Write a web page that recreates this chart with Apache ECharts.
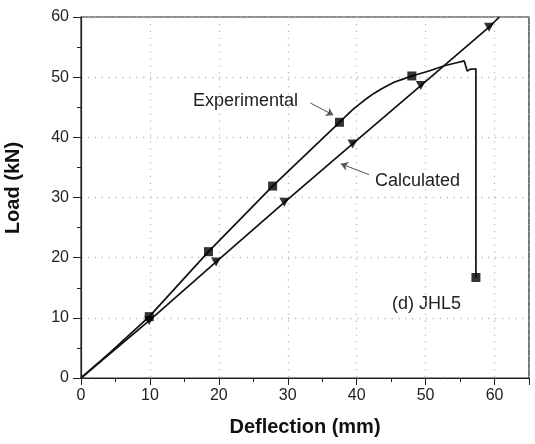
<!DOCTYPE html>
<html>
<head>
<meta charset="utf-8">
<script src="https://cdn.jsdelivr.net/npm/echarts@6/dist/echarts.min.js"></script>
<style>
  html, body { margin: 0; padding: 0; background: #fff; }
  #chart { width: 535px; height: 444px; }
</style>
</head>
<body>
<div id="chart"></div>
<script>
// experimental curve (deflection mm, load kN)
var expX = [0, 4.2, 9.9, 18.5, 27.8, 37.5, 38.5, 39.5, 40.5, 41.5, 42.5, 43.5, 44.5, 45.5, 46.5, 48.0, 49.5, 50.7, 52.7, 54.5, 55.6, 56.05, 56.4, 57.3, 57.3];
var expY = [0, 4.2, 10.2, 21.0, 31.9, 42.5, 43.6, 44.7, 45.6, 46.5, 47.3, 48.0, 48.6, 49.2, 49.6, 50.2, 50.7, 51.1, 51.9, 52.4, 52.7, 51.0, 51.3, 51.4, 16.7];
// square markers on experimental curve
var expMarkX = [9.9, 18.5, 27.8, 37.5, 48.0, 57.3];
var expMarkY = [10.2, 21.0, 31.9, 42.5, 50.2, 16.7];

// calculated curve
var calcX = [0, 9.9, 19.6, 29.5, 39.4, 49.3, 59.2, 60.7];
var calcY = [0, 9.55, 19.3, 29.2, 38.9, 48.6, 58.3, 60.0];
// triangle markers on calculated curve
var calcMarkX = [9.9, 19.6, 29.5, 39.4, 49.3, 59.2];
var calcMarkY = [9.55, 19.3, 29.2, 38.9, 48.6, 58.3];

var xTicks = [0, 10, 20, 30, 40, 50, 60];
var yTicks = [0, 10, 20, 30, 40, 50, 60];

function pairs(xs, ys) {
  return xs.map(function (x, i) { return [x, ys[i]]; });
}

var font = "Liberation Sans, Arial, sans-serif";
var chart = echarts.init(document.getElementById("chart"));

var option = {
  animation: false,
  backgroundColor: "#fff",
  grid: {
    left: 81, right: 6, top: 17, bottom: 66,
    containLabel: false, outerBoundsMode: "none",
    show: true, borderColor: "#222", borderWidth: 1.2
  },
  xAxis: {
    type: "value", min: 0, max: 65, interval: 10,
    name: "Deflection (mm)", nameLocation: "middle", nameGap: 39,
    nameTextStyle: { fontFamily: font, fontWeight: "bold", fontSize: 20, color: "#111" },
    axisLine: { show: true, lineStyle: { color: "#222", width: 1.2 } },
    axisTick: { show: true, inside: false, length: 7, lineStyle: { color: "#222" } },
    minorTick: { show: true, splitNumber: 2, length: 4, lineStyle: { color: "#222" } },
    axisLabel: {
      margin: 10, fontFamily: font, fontSize: 16, color: "#222",
      formatter: function (v) { return xTicks.indexOf(v) >= 0 ? v : ""; }
    },
    splitLine: { show: true, lineStyle: { color: "#bbb", width: 1.3, type: [1.3, 5.6] } }
  },
  yAxis: {
    type: "value", min: 0, max: 60, interval: 10,
    axisLine: { show: true, lineStyle: { color: "#222", width: 1.2 } },
    axisTick: { show: true, inside: false, length: 8, lineStyle: { color: "#222" } },
    minorTick: { show: true, splitNumber: 2, length: 4, lineStyle: { color: "#222" } },
    axisLabel: {
      margin: 12, fontFamily: font, fontSize: 16, color: "#222",
      formatter: function (v) { return yTicks.indexOf(v) >= 0 ? v : ""; }
    },
    splitLine: {
      show: true,
      lineStyle: { color: "#bbb", width: 1.3, type: [1.3, 5.6] }
    }
  },
  series: [
    {
      name: "Experimental", type: "line", data: pairs(expX, expY),
      showSymbol: false, symbol: "none",
      lineStyle: { color: "#111", width: 1.7 },
      markLine: {
        silent: true, symbol: ["none", "arrow"], symbolSize: 7,
        label: { show: false },
        lineStyle: { color: "#555", width: 1, type: "solid" },
        data: [
          [{ coord: [33.3, 45.7] }, { coord: [36.6, 43.7] }],
          [{ coord: [41.8, 33.8] }, { coord: [37.7, 35.6] }]
        ]
      }
    },
    {
      name: "Calculated", type: "line", data: pairs(calcX, calcY),
      showSymbol: false, symbol: "none",
      lineStyle: { color: "#111", width: 1.7 }
    },
    {
      name: "Experimental markers", type: "scatter", data: pairs(expMarkX, expMarkY),
      symbol: "rect", symbolSize: 9, itemStyle: { color: "#000" }, z: 5
    },
    {
      name: "Calculated markers", type: "scatter", data: pairs(calcMarkX, calcMarkY),
      symbol: "triangle", symbolRotate: 180, symbolSize: [10, 9],
      itemStyle: { color: "#000" }, z: 5
    }
  ],
  graphic: [
    // y axis title, placed by hand (it sits a bit above the plot centre)
    { type: "text", x: 13, y: 188, rotation: Math.PI / 2,
      style: { text: "Load (kN)", font: "bold 20px " + font, fill: "#111",
               textAlign: "center", textVerticalAlign: "middle" } },
    { type: "text", left: 193, top: 92,
      style: { text: "Experimental", font: "18px " + font, fill: "#222" } },
    { type: "text", left: 375, top: 172,
      style: { text: "Calculated", font: "18px " + font, fill: "#222" } },
    { type: "text", left: 392, top: 295,
      style: { text: "(d) JHL5", font: "18px " + font, fill: "#222" } }
  ]
};

chart.setOption(option);
</script>
</body>
</html>
